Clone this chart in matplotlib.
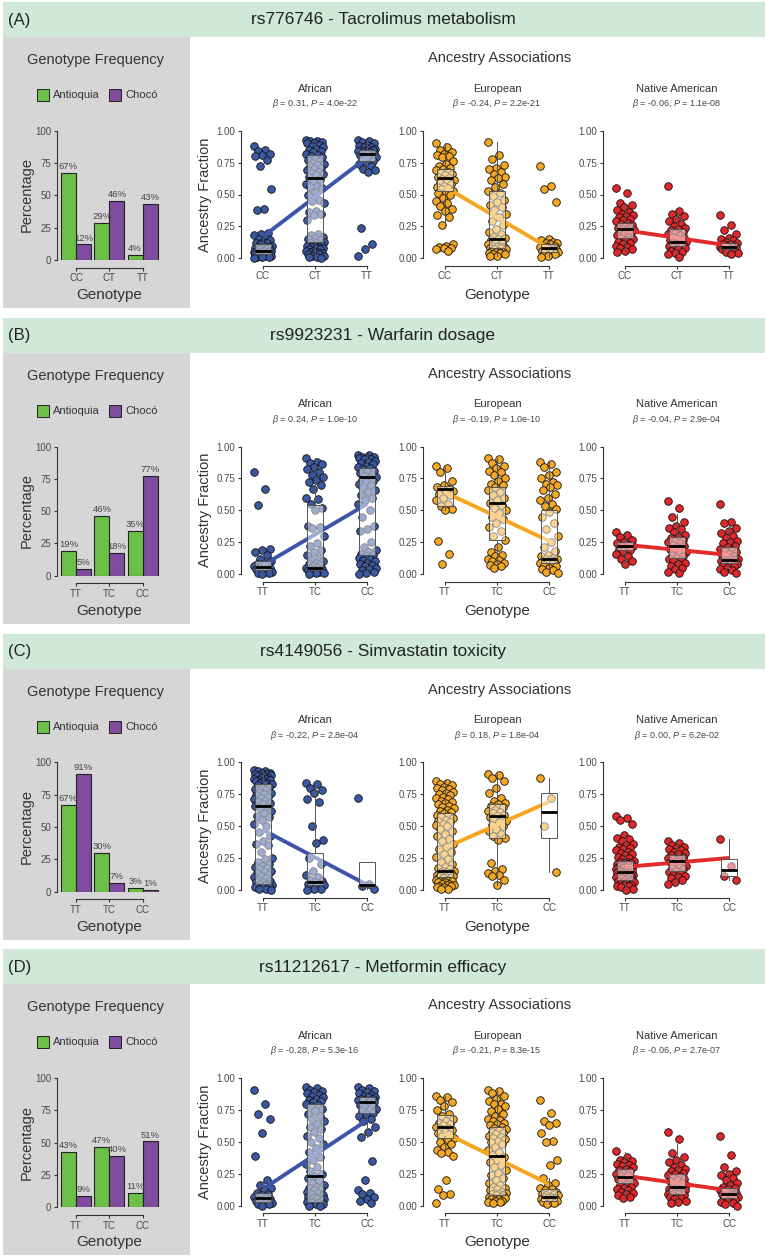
import matplotlib
matplotlib.use('Agg')
import matplotlib.pyplot as plt
from matplotlib.patches import Rectangle
import numpy as np

plt.rcParams['font.family'] = ['Liberation Sans', 'DejaVu Sans']
plt.rcParams['mathtext.fontset'] = 'custom'
plt.rcParams['mathtext.rm'] = 'Liberation Sans'
plt.rcParams['mathtext.it'] = 'Liberation Sans:italic'
plt.rcParams['mathtext.bf'] = 'Liberation Sans:bold'

# ---------------- DATA ----------------
PANEL_LETTERS = ["(A)", "(B)", "(C)", "(D)"]
PANEL_TITLES = ["rs776746 - Tacrolimus metabolism", "rs9923231 - Warfarin dosage",
                "rs4149056 - Simvastatin toxicity", "rs11212617 - Metformin efficacy"]
GENOTYPES = [["CC", "CT", "TT"], ["TT", "TC", "CC"], ["TT", "TC", "CC"], ["TT", "TC", "CC"]]
ANCESTRIES = ["African", "European", "Native American"]

# Genotype frequency (%)
ANTIOQUIA = [[67, 29, 4], [19, 46, 35], [67, 30, 3], [43, 47, 11]]
CHOCO = [[12, 46, 43], [5, 18, 77], [91, 7, 1], [9, 40, 51]]

BETA = [["0.31", "-0.24", "-0.06"], ["0.24", "-0.19", "-0.04"],
        ["-0.22", "0.18", "0.00"], ["-0.28", "-0.21", "-0.06"]]
PVAL = [["4.0e-22", "2.2e-21", "1.1e-08"], ["1.0e-10", "1.0e-10", "2.9e-04"],
        ["2.8e-04", "1.8e-04", "6.2e-02"], ["5.3e-16", "8.3e-15", "2.7e-07"]]

# fitted line values at first and last genotype
A_LINES = [(0.17, 0.79), (0.56, 0.08), (0.22, 0.10)]
B_LINES = [(0.07, 0.55), (0.64, 0.26), (0.23, 0.15)]
C_LINES = [(0.47, 0.04), (0.33, 0.69), (0.18, 0.25)]
D_LINES = [(0.13, 0.67), (0.57, 0.17), (0.235, 0.12)]

# box stats per genotype: (q1, median, q3, whisker low, whisker high)
A_AFR_BOX = [(0.03, 0.06, 0.11, 0.00, 0.20), (0.13, 0.63, 0.81, 0.00, 0.93), (0.76, 0.82, 0.85, 0.68, 0.93)]
A_EUR_BOX = [(0.53, 0.63, 0.70, 0.26, 0.90), (0.08, 0.15, 0.53, 0.02, 0.91), (0.05, 0.08, 0.11, 0.01, 0.15)]
A_NAT_BOX = [(0.16, 0.23, 0.28, 0.05, 0.43), (0.10, 0.13, 0.23, 0.01, 0.37), (0.07, 0.09, 0.12, 0.03, 0.16)]
B_AFR_BOX = [(0.03, 0.055, 0.10, 0.00, 0.20), (0.03, 0.05, 0.54, 0.00, 0.91), (0.15, 0.76, 0.83, 0.00, 0.93)]
B_EUR_BOX = [(0.53, 0.67, 0.69, 0.50, 0.84), (0.27, 0.56, 0.68, 0.05, 0.91), (0.09, 0.12, 0.50, 0.01, 0.88)]
B_NAT_BOX = [(0.19, 0.22, 0.25, 0.08, 0.32), (0.13, 0.22, 0.29, 0.00, 0.47), (0.09, 0.11, 0.21, 0.01, 0.38)]
C_AFR_BOX = [(0.05, 0.66, 0.83, 0.00, 0.93), (0.04, 0.06, 0.29, 0.00, 0.85), (0.02, 0.04, 0.22, 0.01, 0.22)]
C_EUR_BOX = [(0.10, 0.15, 0.60, 0.01, 0.85), (0.41, 0.58, 0.67, 0.04, 0.91), (0.41, 0.61, 0.76, 0.14, 0.88)]
C_NAT_BOX = [(0.08, 0.14, 0.23, 0.00, 0.43), (0.15, 0.23, 0.27, 0.04, 0.38), (0.11, 0.155, 0.24, 0.08, 0.40)]
D_AFR_BOX = [(0.03, 0.06, 0.10, 0.00, 0.20), (0.03, 0.23, 0.80, 0.00, 0.93), (0.73, 0.81, 0.85, 0.54, 0.93)]
D_EUR_BOX = [(0.53, 0.62, 0.71, 0.40, 0.86), (0.08, 0.39, 0.62, 0.02, 0.91), (0.04, 0.07, 0.13, 0.01, 0.22)]
D_NAT_BOX = [(0.18, 0.225, 0.29, 0.06, 0.42), (0.09, 0.15, 0.25, 0.02, 0.48), (0.06, 0.09, 0.14, 0.00, 0.26)]

# individual ancestry fractions per genotype group
A_AFR = [
    [0.88,0.85,0.84,0.82,0.81,0.80,0.77,0.72,0.54,0.39,0.38,0.20,0.19,0.18,0.16,0.15,0.14,0.13,0.12,0.12,0.11,0.10,0.10,0.09,0.09,0.08,0.08,0.07,0.07,0.06,0.06,0.06,0.05,0.05,0.05,0.04,0.04,0.04,0.03,0.03,0.03,0.02,0.02,0.02,0.01,0.01,0.01,0.00],
    [0.93,0.92,0.92,0.91,0.90,0.90,0.89,0.88,0.87,0.86,0.85,0.84,0.83,0.82,0.81,0.80,0.79,0.78,0.77,0.76,0.75,0.74,0.73,0.72,0.71,0.70,0.69,0.68,0.67,0.66,0.65,0.64,0.62,0.60,0.58,0.57,0.56,0.55,0.52,0.50,0.46,0.45,0.43,0.37,0.36,0.35,0.34,0.30,0.19,0.18,0.17,0.16,0.15,0.14,0.13,0.13,0.12,0.12,0.11,0.10,0.10,0.09,0.09,0.08,0.08,0.07,0.07,0.06,0.06,0.05,0.05,0.04,0.04,0.03,0.03,0.02,0.02,0.01,0.01,0.00],
    [0.93,0.92,0.91,0.90,0.89,0.88,0.87,0.87,0.86,0.86,0.85,0.85,0.84,0.84,0.83,0.83,0.82,0.82,0.81,0.80,0.80,0.79,0.78,0.77,0.76,0.75,0.74,0.72,0.70,0.69,0.68,0.24,0.11,0.07,0.02]]
A_EUR = [
    [0.90,0.87,0.85,0.83,0.82,0.81,0.80,0.79,0.76,0.74,0.72,0.71,0.70,0.69,0.68,0.67,0.66,0.65,0.64,0.63,0.62,0.61,0.60,0.59,0.58,0.57,0.56,0.55,0.54,0.53,0.52,0.51,0.50,0.47,0.45,0.43,0.41,0.39,0.37,0.34,0.32,0.26,0.11,0.10,0.09,0.08,0.08,0.07,0.06],
    [0.91,0.81,0.78,0.73,0.71,0.70,0.68,0.66,0.64,0.63,0.61,0.58,0.56,0.53,0.51,0.49,0.46,0.44,0.42,0.40,0.38,0.35,0.32,0.29,0.26,0.23,0.21,0.19,0.17,0.16,0.15,0.14,0.13,0.12,0.11,0.10,0.10,0.09,0.09,0.08,0.08,0.07,0.07,0.06,0.06,0.05,0.05,0.04,0.04,0.03,0.03,0.02,0.02],
    [0.72,0.57,0.54,0.44,0.15,0.14,0.13,0.12,0.12,0.11,0.10,0.10,0.09,0.09,0.08,0.08,0.07,0.07,0.06,0.06,0.05,0.05,0.04,0.04,0.03,0.02,0.01]]
A_NAT = [
    [0.55,0.51,0.43,0.42,0.40,0.38,0.36,0.35,0.34,0.33,0.32,0.31,0.30,0.29,0.28,0.27,0.26,0.25,0.24,0.24,0.23,0.22,0.22,0.21,0.20,0.19,0.18,0.17,0.16,0.15,0.14,0.13,0.12,0.11,0.10,0.09,0.08,0.07,0.06,0.05],
    [0.57,0.37,0.35,0.33,0.31,0.29,0.27,0.25,0.24,0.23,0.22,0.21,0.20,0.19,0.18,0.17,0.16,0.15,0.14,0.14,0.13,0.13,0.12,0.12,0.11,0.11,0.10,0.10,0.09,0.08,0.07,0.06,0.05,0.04,0.03,0.01],
    [0.34,0.26,0.22,0.19,0.16,0.15,0.14,0.13,0.12,0.11,0.11,0.10,0.10,0.09,0.09,0.08,0.08,0.07,0.07,0.06,0.05,0.04,0.03]]
B_AFR = [
    [0.80,0.67,0.54,0.20,0.19,0.17,0.15,0.12,0.10,0.09,0.08,0.08,0.07,0.06,0.06,0.05,0.05,0.04,0.04,0.03,0.03,0.02,0.02,0.01,0.01,0.00],
    [0.91,0.88,0.87,0.86,0.84,0.82,0.80,0.78,0.76,0.74,0.72,0.70,0.67,0.60,0.59,0.55,0.52,0.50,0.38,0.37,0.36,0.30,0.24,0.22,0.19,0.17,0.15,0.13,0.11,0.10,0.09,0.08,0.07,0.06,0.05,0.05,0.04,0.04,0.03,0.03,0.02,0.02,0.01,0.01,0.00],
    [0.93,0.93,0.92,0.92,0.91,0.91,0.90,0.90,0.89,0.88,0.87,0.86,0.85,0.84,0.83,0.82,0.81,0.80,0.79,0.78,0.77,0.76,0.75,0.74,0.73,0.72,0.71,0.70,0.68,0.66,0.64,0.62,0.60,0.58,0.55,0.50,0.45,0.38,0.35,0.34,0.25,0.21,0.19,0.17,0.16,0.15,0.14,0.13,0.12,0.11,0.10,0.09,0.08,0.07,0.06,0.05,0.04,0.03,0.02,0.01,0.00]]
B_EUR = [
    [0.85,0.83,0.80,0.73,0.70,0.68,0.67,0.66,0.65,0.64,0.63,0.62,0.60,0.58,0.55,0.53,0.51,0.50,0.26,0.16,0.08],
    [0.91,0.90,0.87,0.85,0.83,0.81,0.80,0.78,0.75,0.73,0.71,0.70,0.68,0.66,0.64,0.62,0.60,0.58,0.56,0.54,0.52,0.50,0.48,0.45,0.43,0.40,0.37,0.34,0.30,0.27,0.21,0.17,0.15,0.14,0.12,0.11,0.10,0.09,0.08,0.07,0.06,0.05],
    [0.88,0.86,0.84,0.80,0.78,0.75,0.72,0.71,0.70,0.68,0.66,0.63,0.60,0.58,0.55,0.53,0.51,0.49,0.45,0.40,0.35,0.30,0.25,0.21,0.18,0.15,0.14,0.13,0.12,0.12,0.11,0.10,0.10,0.09,0.09,0.08,0.07,0.06,0.05,0.04,0.03,0.02,0.01]]
B_NAT = [
    [0.33,0.31,0.29,0.27,0.25,0.24,0.23,0.22,0.22,0.21,0.20,0.19,0.18,0.16,0.14,0.12,0.10,0.08],
    [0.57,0.52,0.45,0.41,0.38,0.36,0.35,0.33,0.31,0.29,0.28,0.27,0.26,0.25,0.24,0.23,0.22,0.21,0.20,0.19,0.18,0.17,0.16,0.15,0.14,0.13,0.12,0.11,0.10,0.09,0.08,0.06,0.05,0.04,0.02,0.01],
    [0.55,0.41,0.40,0.36,0.34,0.32,0.30,0.28,0.26,0.25,0.24,0.22,0.21,0.20,0.19,0.18,0.17,0.16,0.15,0.14,0.13,0.12,0.12,0.11,0.11,0.10,0.10,0.09,0.09,0.08,0.08,0.07,0.06,0.05,0.04,0.03,0.02,0.01]]
C_AFR = [
    [0.94,0.93,0.93,0.92,0.92,0.91,0.91,0.90,0.90,0.89,0.89,0.88,0.88,0.87,0.87,0.86,0.86,0.85,0.85,0.84,0.84,0.83,0.83,0.82,0.81,0.80,0.79,0.78,0.77,0.76,0.75,0.74,0.73,0.72,0.71,0.70,0.69,0.68,0.67,0.66,0.65,0.64,0.62,0.60,0.58,0.57,0.55,0.52,0.50,0.45,0.42,0.38,0.36,0.35,0.30,0.25,0.24,0.22,0.20,0.19,0.18,0.17,0.16,0.15,0.14,0.13,0.12,0.11,0.10,0.09,0.08,0.07,0.06,0.06,0.05,0.05,0.04,0.04,0.03,0.03,0.02,0.02,0.01,0.01,0.00],
    [0.84,0.83,0.80,0.78,0.76,0.71,0.69,0.50,0.39,0.37,0.25,0.20,0.15,0.12,0.10,0.08,0.07,0.06,0.05,0.05,0.04,0.04,0.03,0.02,0.01,0.01,0.00],
    [0.72,0.05,0.03,0.01]]
C_EUR = [
    [0.85,0.84,0.83,0.82,0.81,0.80,0.79,0.78,0.77,0.76,0.75,0.74,0.73,0.72,0.71,0.70,0.69,0.68,0.67,0.66,0.65,0.64,0.63,0.62,0.61,0.60,0.59,0.58,0.57,0.56,0.55,0.54,0.53,0.52,0.51,0.50,0.48,0.46,0.44,0.42,0.40,0.38,0.36,0.34,0.32,0.30,0.28,0.26,0.24,0.22,0.20,0.18,0.17,0.16,0.15,0.15,0.14,0.14,0.13,0.13,0.12,0.12,0.11,0.11,0.10,0.10,0.09,0.09,0.08,0.08,0.07,0.07,0.06,0.06,0.05,0.05,0.04,0.04,0.03,0.03,0.02,0.02,0.01,0.01],
    [0.91,0.90,0.88,0.85,0.80,0.76,0.72,0.70,0.68,0.67,0.66,0.65,0.63,0.62,0.61,0.60,0.59,0.58,0.57,0.56,0.55,0.54,0.53,0.51,0.50,0.48,0.46,0.44,0.42,0.41,0.39,0.21,0.16,0.15,0.13,0.12,0.11,0.08,0.04],
    [0.88,0.72,0.50,0.14]]
C_NAT = [
    [0.58,0.56,0.55,0.52,0.43,0.41,0.40,0.38,0.36,0.35,0.34,0.33,0.32,0.31,0.30,0.29,0.28,0.27,0.26,0.25,0.24,0.23,0.22,0.22,0.21,0.21,0.20,0.20,0.19,0.19,0.18,0.18,0.17,0.17,0.16,0.16,0.15,0.15,0.14,0.14,0.13,0.13,0.12,0.12,0.11,0.11,0.10,0.10,0.09,0.09,0.08,0.08,0.07,0.07,0.06,0.06,0.05,0.05,0.04,0.04,0.03,0.03,0.02,0.01,0.00],
    [0.38,0.37,0.35,0.34,0.33,0.32,0.31,0.30,0.29,0.28,0.27,0.26,0.25,0.25,0.24,0.24,0.23,0.23,0.22,0.21,0.20,0.19,0.18,0.17,0.16,0.15,0.14,0.13,0.12,0.11,0.10,0.09,0.08,0.06,0.05],
    [0.40,0.19,0.11,0.08]]
D_AFR = [
    [0.91,0.80,0.72,0.68,0.57,0.39,0.20,0.16,0.14,0.12,0.10,0.09,0.08,0.07,0.06,0.05,0.05,0.04,0.04,0.03,0.03,0.02,0.02,0.01,0.01,0.00],
    [0.93,0.92,0.91,0.90,0.89,0.88,0.87,0.86,0.85,0.84,0.83,0.82,0.81,0.80,0.79,0.78,0.76,0.74,0.72,0.70,0.68,0.66,0.64,0.62,0.60,0.58,0.55,0.53,0.50,0.48,0.45,0.42,0.38,0.36,0.33,0.30,0.27,0.25,0.23,0.22,0.20,0.18,0.16,0.15,0.14,0.13,0.12,0.11,0.10,0.09,0.08,0.07,0.07,0.06,0.06,0.05,0.05,0.04,0.04,0.03,0.03,0.02,0.02,0.01,0.01,0.00,0.00],
    [0.93,0.92,0.91,0.90,0.89,0.88,0.87,0.86,0.85,0.85,0.84,0.84,0.83,0.83,0.82,0.82,0.81,0.80,0.79,0.78,0.77,0.76,0.75,0.74,0.73,0.72,0.70,0.68,0.66,0.62,0.58,0.54,0.35,0.20,0.12,0.10,0.09,0.07,0.05,0.04,0.02]]
D_EUR = [
    [0.86,0.85,0.83,0.81,0.78,0.75,0.72,0.70,0.68,0.66,0.65,0.64,0.63,0.62,0.61,0.60,0.59,0.58,0.57,0.56,0.55,0.53,0.52,0.50,0.48,0.46,0.44,0.42,0.41,0.39,0.20,0.13,0.09,0.08,0.02],
    [0.91,0.90,0.88,0.86,0.84,0.82,0.80,0.80,0.78,0.76,0.74,0.72,0.70,0.68,0.67,0.66,0.65,0.64,0.63,0.62,0.61,0.60,0.59,0.58,0.57,0.56,0.55,0.54,0.53,0.52,0.51,0.50,0.48,0.46,0.44,0.42,0.40,0.38,0.36,0.34,0.32,0.30,0.28,0.26,0.24,0.22,0.20,0.18,0.16,0.15,0.14,0.13,0.12,0.11,0.10,0.10,0.09,0.09,0.08,0.08,0.07,0.07,0.06,0.06,0.05,0.05,0.04,0.04,0.03,0.03,0.02],
    [0.83,0.73,0.66,0.65,0.63,0.57,0.51,0.50,0.36,0.32,0.22,0.18,0.16,0.14,0.13,0.12,0.11,0.10,0.09,0.09,0.08,0.08,0.07,0.07,0.06,0.06,0.05,0.05,0.04,0.04,0.03,0.03,0.02,0.01]]
D_NAT = [
    [0.43,0.38,0.36,0.35,0.34,0.33,0.32,0.31,0.30,0.29,0.28,0.27,0.26,0.25,0.24,0.23,0.22,0.22,0.21,0.20,0.19,0.18,0.17,0.16,0.15,0.14,0.13,0.12,0.11,0.10,0.09,0.08,0.07,0.06],
    [0.58,0.52,0.41,0.38,0.36,0.34,0.32,0.30,0.29,0.28,0.27,0.26,0.25,0.24,0.23,0.22,0.21,0.20,0.19,0.18,0.17,0.16,0.15,0.15,0.14,0.14,0.13,0.13,0.12,0.12,0.11,0.11,0.10,0.10,0.09,0.09,0.08,0.08,0.07,0.07,0.06,0.05,0.04,0.03,0.02],
    [0.55,0.40,0.30,0.27,0.25,0.24,0.22,0.20,0.18,0.16,0.15,0.14,0.13,0.12,0.11,0.10,0.10,0.09,0.09,0.08,0.08,0.07,0.07,0.06,0.05,0.04,0.03,0.02,0.01,0.00]]

# ---------------- STYLE ----------------
HEADER_COLOR = '#cfe8d7'
GRAY_COLOR = '#d6d6d6'
GREEN = '#6cbf47'
PURPLE = '#7f4c9f'
POINT_COLORS = ['#3b59a3', '#f4a722', '#e0282b']
LINE_COLORS = ['#3d55a8', '#f5a51e', '#e32a2a']
TXT = '#333333'
TICK = '#4a4a4a'

W, H = 766, 1256
fig = plt.figure(figsize=(W / 100, H / 100), dpi=100)
fig.patch.set_facecolor('white')


def fy(y):
    return 1 - y / H


def add_ax(l, t, r, b):
    return fig.add_axes([l / W, 1 - b / H, (r - l) / W, (b - t) / H])


def style_axes(ax, ymax, xlim):
    for s in ['top', 'right']:
        ax.spines[s].set_visible(False)
    ax.spines['left'].set_bounds(0, ymax)
    ax.spines['bottom'].set_bounds(0, 2)
    ax.spines['bottom'].set_position(('outward', 5.5))
    for s in ['left', 'bottom']:
        ax.spines[s].set_color('#333333')
        ax.spines[s].set_linewidth(0.8)
    ax.tick_params(axis='both', length=2.5, width=0.8, color='#333333',
                   labelsize=7, labelcolor=TICK, pad=1.5)
    ax.set_xlim(*xlim)
    ax.set_facecolor('none')


def jitter(n):
    return ((np.arange(n) * 0.6180339887) % 1.0 - 0.5) * 0.36


SCATTER_DATA = [[A_AFR, A_EUR, A_NAT], [B_AFR, B_EUR, B_NAT],
                [C_AFR, C_EUR, C_NAT], [D_AFR, D_EUR, D_NAT]]
BOX_DATA = [[A_AFR_BOX, A_EUR_BOX, A_NAT_BOX], [B_AFR_BOX, B_EUR_BOX, B_NAT_BOX],
            [C_AFR_BOX, C_EUR_BOX, C_NAT_BOX], [D_AFR_BOX, D_EUR_BOX, D_NAT_BOX]]
LINE_DATA = [A_LINES, B_LINES, C_LINES, D_LINES]

SCAT_LEFTS = [241, 423, 603]
SCAT_W = 148

for k in range(4):
    off = k * 315.8
    # header band
    fig.add_artist(Rectangle((3 / W, fy(37 + off)), 762 / W, 35 / H, transform=fig.transFigure,
                             facecolor=HEADER_COLOR, edgecolor='none', zorder=0))
    fig.text(8 / W, fy(20 + off), PANEL_LETTERS[k], fontsize=12, color='#222222', va='center', ha='left')
    fig.text(383 / W, fy(20 + off), PANEL_TITLES[k], fontsize=12.5, color='#222222', va='center', ha='center')
    # gray side panel
    fig.add_artist(Rectangle((3 / W, fy(308 + off)), 187 / W, 271 / H, transform=fig.transFigure,
                             facecolor=GRAY_COLOR, edgecolor='none', zorder=0))
    fig.text(96 / W, fy(60 + off), "Genotype Frequency", fontsize=10.5, color=TXT, ha='center', va='center')
    fig.text(500 / W, fy(58 + off), "Ancestry Associations", fontsize=10.5, color=TXT, ha='center', va='center')
    # legend
    fig.add_artist(Rectangle((37 / W, fy(101 + off)), 12 / W, 12 / H, transform=fig.transFigure,
                             facecolor=GREEN, edgecolor='#222222', linewidth=0.7))
    fig.text(53 / W, fy(95 + off), "Antioquia", fontsize=8, color=TXT, va='center', ha='left')
    fig.add_artist(Rectangle((109 / W, fy(101 + off)), 12 / W, 12 / H, transform=fig.transFigure,
                             facecolor=PURPLE, edgecolor='#222222', linewidth=0.7))
    fig.text(125 / W, fy(95 + off), "Chocó", fontsize=8, color=TXT, va='center', ha='left')

    # bar chart
    axb = add_ax(56.7, 130.7 + off, 162, 260 + off)
    x = np.arange(3)
    axb.bar(x - 0.225, ANTIOQUIA[k], 0.45, color=GREEN, edgecolor='#222222', linewidth=0.8)
    axb.bar(x + 0.225, CHOCO[k], 0.45, color=PURPLE, edgecolor='#222222', linewidth=0.8)
    for i in range(3):
        axb.text(x[i] - 0.225, ANTIOQUIA[k][i] + 1.5, f"{ANTIOQUIA[k][i]}%", ha='center', va='bottom',
                 fontsize=6.8, color='#444444')
        axb.text(x[i] + 0.225, CHOCO[k][i] + 1.5, f"{CHOCO[k][i]}%", ha='center', va='bottom',
                 fontsize=6.8, color='#444444')
    axb.set_ylim(0, 100)
    style_axes(axb, 100, (-0.58, 2.58))
    axb.set_yticks([0, 25, 50, 75, 100])
    axb.set_xticks(x)
    axb.set_xticklabels(GENOTYPES[k])
    fig.text(27 / W, fy(195 + off), "Percentage", fontsize=10.5, color=TXT, rotation=90,
             ha='center', va='center')
    fig.text(109 / W, fy(295 + off), "Genotype", fontsize=11, color=TXT, ha='center', va='center')

    # scatter panels
    for j in range(3):
        l = SCAT_LEFTS[j]
        ax = add_ax(l, 130.7 + off, l + SCAT_W, 258.3 + off)
        ax.set_ylim(0, 1)
        style_axes(ax, 1, (-0.42, 2.42))
        groups = SCATTER_DATA[k][j]
        for g in range(3):
            vals = np.array(groups[g])
            xs = g + jitter(len(vals))
            ax.scatter(xs, vals, s=30, facecolor=POINT_COLORS[j], edgecolor='#111111',
                       linewidth=0.6, zorder=2, clip_on=False)
        y0, y2 = LINE_DATA[k][j]
        ax.plot([0, 2], [y0, y2], color=LINE_COLORS[j], lw=2.8, zorder=3, solid_capstyle='butt')
        stats = []
        for g in range(3):
            q1, med, q3, lo, hi = BOX_DATA[k][j][g]
            stats.append(dict(q1=q1, med=med, q3=q3, whislo=lo, whishi=hi, fliers=[]))
        bp = ax.bxp(stats, positions=[0, 1, 2], widths=0.32, patch_artist=True, showfliers=False,
                    showcaps=False, manage_ticks=False,
                    boxprops=dict(facecolor=(1, 1, 1, 0.5), edgecolor='#555555', linewidth=0.7),
                    whiskerprops=dict(color='#555555', linewidth=0.7),
                    medianprops=dict(color='black', linewidth=2.0))
        for a in bp['boxes']:
            a.set_zorder(4)
        for a in bp['whiskers']:
            a.set_zorder(4)
        for a in bp['medians']:
            a.set_zorder(5)
        ax.set_yticks([0, 0.25, 0.5, 0.75, 1.0])
        ax.set_yticklabels(['0.00', '0.25', '0.50', '0.75', '1.00'])
        ax.set_xticks([0, 1, 2])
        ax.set_xticklabels(GENOTYPES[k])
        cx = l + SCAT_W / 2
        fig.text(cx / W, fy(88.5 + off), ANCESTRIES[j], fontsize=8, color=TXT, ha='center', va='center')
        fig.text(cx / W, fy(103.5 + off), r"$\beta$ = " + BETA[k][j] + ", $P$ = " + PVAL[k][j],
                 fontsize=6.5, color='#444444', ha='center', va='center')
    fig.text(205 / W, fy(194.5 + off), "Ancestry Fraction", fontsize=10.5, color=TXT, rotation=90,
             ha='center', va='center')
    fig.text(497 / W, fy(295 + off), "Genotype", fontsize=11, color=TXT, ha='center', va='center')

fig.savefig('out.png', dpi=100)
